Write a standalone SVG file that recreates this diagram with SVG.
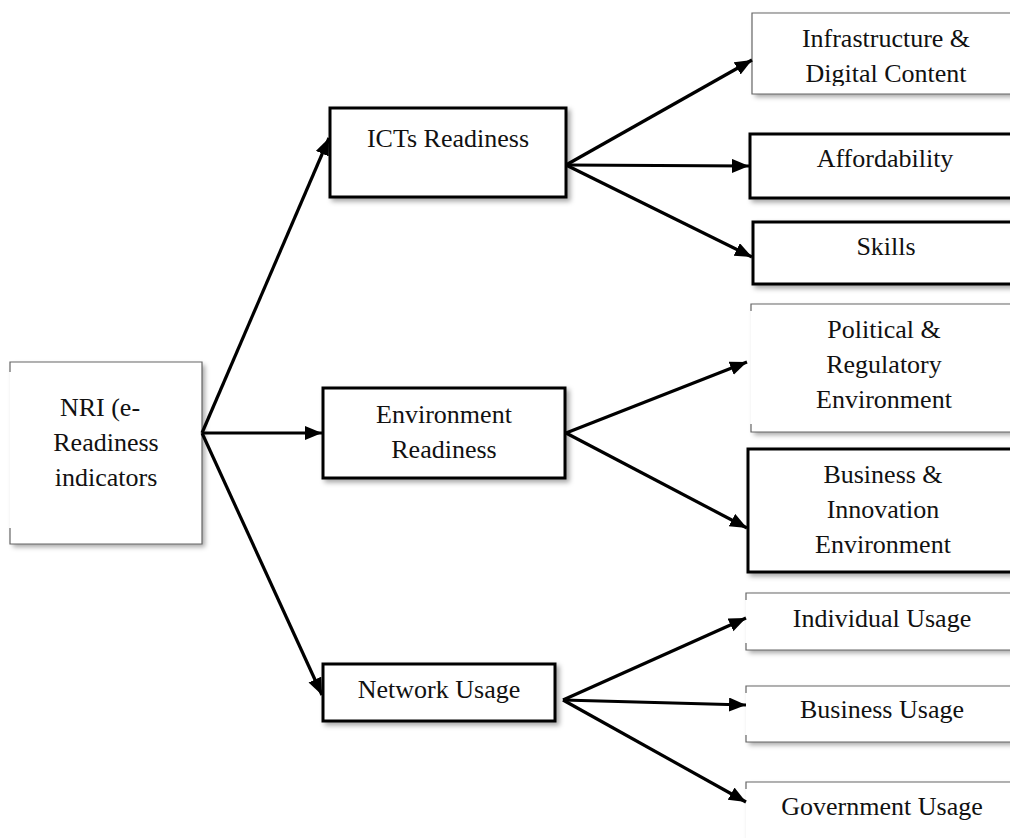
<svg xmlns="http://www.w3.org/2000/svg" width="1010" height="838" viewBox="0 0 1010 838">
<defs>
<style>
text{font-family:"Liberation Serif","Times New Roman",serif;font-size:26px;fill:#111;text-anchor:middle}
.thick{fill:#fff;stroke:#000;stroke-width:3}
.bg{fill:#fff;stroke:none}
.thin{fill:none;stroke:#666;stroke-width:1.2}
.conn line{stroke:#000;stroke-width:3.2;marker-end:url(#ah)}
</style>
<filter id="sh" x="-10%" y="-20%" width="130%" height="150%">
<feDropShadow dx="3" dy="3" stdDeviation="2.5" flood-color="#000" flood-opacity="0.35"/>
</filter>
<marker id="ah" markerUnits="userSpaceOnUse" markerWidth="20" markerHeight="16" refX="17" refY="7" orient="auto">
<path d="M0,0 L17,7 L0,14 Z" fill="#000"/>
</marker>
<clipPath id="clipInfra"><rect x="752" y="13" width="270" height="73"/></clipPath>
</defs>

<g id="nri">
<rect class="bg" x="10" y="362" width="192" height="182" filter="url(#sh)"/>
<path class="thin" d="M10,372 V362 H202 V544 H10 V528"/>
<text x="100" y="416">NRI (e-</text>
<text x="106" y="451">Readiness</text>
<text x="106" y="486">indicators</text>
</g>

<g id="icts">
<rect class="thick" x="330" y="108" width="236" height="89" filter="url(#sh)"/>
<text x="448" y="147">ICTs Readiness</text>
</g>

<g id="env">
<rect class="thick" x="323" y="388" width="242" height="90" filter="url(#sh)"/>
<text x="444" y="423">Environment</text>
<text x="444" y="458">Readiness</text>
</g>

<g id="network">
<rect class="thick" x="323" y="664" width="232" height="57" filter="url(#sh)"/>
<text x="439" y="698">Network Usage</text>
</g>

<g id="infra">
<rect class="bg" x="752" y="13" width="270" height="81" filter="url(#sh)"/>
<path class="thin" d="M1022,13 H752 V94 H1022"/>
<g clip-path="url(#clipInfra)">
<text x="886" y="47">Infrastructure &amp;</text>
<text x="886" y="82">Digital Content</text>
</g>
</g>

<g id="afford">
<rect class="thick" x="750" y="134" width="270" height="64" filter="url(#sh)"/>
<text x="885" y="167">Affordability</text>
</g>

<g id="skills">
<rect class="thick" x="753" y="222" width="270" height="62" filter="url(#sh)"/>
<text x="886" y="255">Skills</text>
</g>

<g id="political">
<rect class="bg" x="751" y="304" width="270" height="128" filter="url(#sh)"/>
<path class="thin" d="M1021,304 H751 V311 M751,424 V432 H1021"/>
<text x="884" y="338">Political &amp;</text>
<text x="884" y="373">Regulatory</text>
<text x="884" y="408">Environment</text>
</g>

<g id="business-innovation">
<rect class="thick" x="748" y="449" width="272" height="123" filter="url(#sh)"/>
<text x="883" y="483">Business &amp;</text>
<text x="883" y="518">Innovation</text>
<text x="883" y="553">Environment</text>
</g>

<g id="individual">
<rect class="bg" x="746" y="593" width="274" height="57" filter="url(#sh)"/>
<path class="thin" d="M1020,593 H746 V600 M746,643 V650 H1020"/>
<text x="882" y="627">Individual Usage</text>
</g>

<g id="business-usage">
<rect class="bg" x="746" y="686" width="274" height="56" filter="url(#sh)"/>
<path class="thin" d="M1020,686 H746 V693 M746,735 V742 H1020"/>
<text x="882" y="718">Business Usage</text>
</g>

<g id="government">
<rect class="bg" x="746" y="782" width="274" height="100" filter="url(#sh)"/>
<path class="thin" d="M1020,782 H746 V789"/>
<text x="882" y="815">Government Usage</text>
</g>

<g class="conn" id="connectors">
<line x1="202" y1="433" x2="329" y2="138"/>
<line x1="202" y1="433" x2="322" y2="433"/>
<line x1="202" y1="433" x2="322" y2="695"/>
<line x1="566" y1="165" x2="752" y2="60"/>
<line x1="566" y1="165" x2="749" y2="166"/>
<line x1="566" y1="165" x2="752" y2="257"/>
<line x1="566" y1="433" x2="747" y2="362"/>
<line x1="566" y1="433" x2="747" y2="528"/>
<line x1="563" y1="700" x2="746" y2="618"/>
<line x1="563" y1="700" x2="746" y2="705"/>
<line x1="563" y1="700" x2="746" y2="802"/>
</g>
</svg>
